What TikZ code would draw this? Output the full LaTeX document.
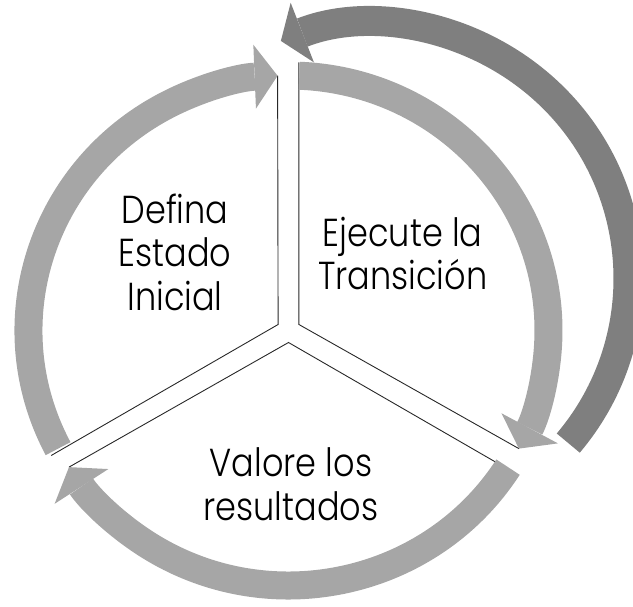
\documentclass[tikz,border=0pt]{standalone}
\usepackage{fontspec}
\newfontfamily\cyclefont{Poppins Light}[FakeStretch=0.86]
\usetikzlibrary{arrows.meta,calc}

\definecolor{cyclelight}{RGB}{166,166,166}
\definecolor{cycledark}{RGB}{127,127,127}
\definecolor{edgeline}{RGB}{40,40,40}

\begin{document}
\begin{tikzpicture}[x=1pt,y=1pt,
    band/.style={draw=cyclelight,line width=28pt,
      -{Triangle[length=23pt,width=64pt,line width=0pt]}},
    edge/.style={draw=edgeline,line width=0.9pt,line join=miter},
    steptext/.style={align=center,text=black,
      font=\cyclefont\fontsize{39}{43.5}\selectfont}]

\useasboundingbox (-288.5,-276.5) rectangle (344.5,330.5);

% corners of the three sectors
\coordinate (A1) at (150:12);
\coordinate (A2) at (30:12);
\coordinate (A3) at (270:12);

% start and tip of each arc
\coordinate (S1) at (207.6:260 and 255);
\coordinate (T1) at (92.4:260 and 255);
\coordinate (S2) at (87.6:260 and 255);
\coordinate (T2) at (-27.6:260 and 255);
\coordinate (S3) at (-32.4:260 and 255);
\coordinate (T3) at (-147.6:260 and 255);

% Sector edges
\draw[edge] (T1) -- (A1) -- ($(A1)+(210:262)$);
\draw[edge] ($(A2)+(90:262)$) -- (A2) -- (T2);
\draw[edge] ($(A3)+(-30:262)$) -- (A3) -- (T3);

% Cycle arrows
\draw[band] (S1) arc[start angle=207.6,end angle=92.4,x radius=260,y radius=255];
\draw[band] (S2) arc[start angle=87.6,end angle=-27.6,x radius=260,y radius=255];
\draw[band] (S3) arc[start angle=-32.4,end angle=-147.6,x radius=260,y radius=255];

% Outer return arrow
\coordinate (D) at (85,52);
\draw[band,draw=cycledark,line width=30pt] ($(D)+(-40.2:255)$)
    arc[start angle=-40.2,end angle=111.3,radius=255];

% Labels
\node[steptext] (define) at (-113.5,78.5) {Defina\\Estado\\Inicial};
\node[steptext] (execute) at (114.2,77) {Ejecute la\\Transición};
\node[steptext] (assess) at (2.5,-153.5) {Valore los\\resultados};

\end{tikzpicture}
\end{document}
